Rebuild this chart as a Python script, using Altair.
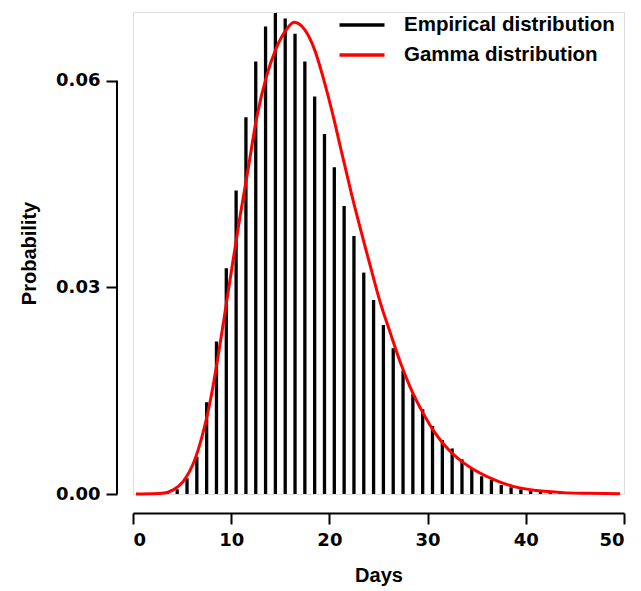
import altair as alt
import pandas as pd

# Empirical distribution (bin centres, probability)
bar_days = [3.5, 4.5, 5.5, 6.5, 7.5, 8.5, 9.5, 10.5, 11.5, 12.5,
            13.5, 14.5, 15.5, 16.5, 17.5, 18.5, 19.5, 20.5, 21.5, 22.5,
            23.5, 24.5, 25.5, 26.5, 27.5, 28.5, 29.5, 30.5, 31.5, 32.5,
            33.5, 34.5, 35.5, 36.5, 37.5, 38.5, 39.5, 40.5, 41.5, 42.5,
            43.5, 44.5, 45.5, 46.5]
bar_prob = [0.00015, 0.00068, 0.00228, 0.00542, 0.01332, 0.02213, 0.03279, 0.04407, 0.05473, 0.06281,
            0.06789, 0.06984, 0.06905, 0.06683, 0.06281, 0.05772, 0.05230, 0.04746, 0.04184, 0.03748,
            0.03215, 0.02819, 0.02455, 0.02117, 0.01794, 0.01453, 0.01231, 0.00988, 0.00785, 0.00661,
            0.00504, 0.00363, 0.00257, 0.00203, 0.00131, 0.00097, 0.00068, 0.00048, 0.00033, 0.00025,
            0.00015, 0.00010, 0.00007, 0.00004]

# Gamma distribution curve
curve_days = [0.3, 2.0, 3.0, 4.1, 5.1, 6.3, 7.0, 8.0, 8.8, 9.35, 9.9, 10.4, 10.9, 11.4, 11.7,
              12.6, 13.6, 14.6, 15.6, 16.4, 17.5, 18.5, 19.4, 20.4, 21.1, 22.3, 23.4, 24.5,
              25.1, 26.2, 27.2, 28.2, 29.6, 30.6, 31.6, 32.6, 33.6, 35.0, 36.4, 38.7, 41.1,
              43.8, 46.5, 49.6]
curve_prob = [0.0, 0.00003, 0.0001, 0.0006, 0.0018, 0.0050, 0.0082, 0.0145, 0.0212, 0.0262,
              0.0313, 0.0358, 0.0403, 0.0445, 0.0470, 0.0547, 0.0607, 0.0648, 0.0674, 0.0685,
              0.0674, 0.0645, 0.0603, 0.0548, 0.0505, 0.0433, 0.0372, 0.0313, 0.0282, 0.0234,
              0.0192, 0.0156, 0.0116, 0.0092, 0.0073, 0.0058, 0.0046, 0.0033, 0.0023, 0.0011,
              0.0005, 0.0002, 0.0001, 0.00003]

series_names = ["Empirical distribution", "Gamma distribution"]
series_colors = ["#000000", "#ff0000"]
x_ticks = [0, 10, 20, 30, 40, 50]
y_ticks = [0.0, 0.03, 0.06]

bars_df = pd.DataFrame({"Days": bar_days, "Probability": bar_prob, "series": series_names[0]})
curve_df = pd.DataFrame({"Days": curve_days, "Probability": curve_prob, "series": series_names[1]})

TICK_FONT = "DejaVu Sans"
TEXT_FONT = "Liberation Sans"

x_scale = alt.Scale(domain=[0, 50], nice=False, zero=False)
y_scale = alt.Scale(domain=[0, 0.07], nice=False)

color = alt.Color(
    "series:N",
    scale=alt.Scale(domain=series_names, range=series_colors),
    legend=alt.Legend(
        title=None, orient="none", legendX=217, legendY=1,
        symbolType="M-2.25,0H2.25", symbolSize=400, symbolStrokeWidth=3.5,
        labelFont=TEXT_FONT, labelFontSize=20.5, labelFontWeight="bold",
        labelColor="#000000", labelOffset=30, labelLimit=400, rowPadding=7, padding=0,
    ),
)

x_enc = alt.X(
    "Days:Q", scale=x_scale, title="Days",
    axis=alt.Axis(values=x_ticks, format="d", offset=19, tickSize=11, tickWidth=2,
                  domainWidth=2, domainColor="#000", tickColor="#000",
                  labelFont=TICK_FONT, labelFontSize=18, labelFontWeight="bold", labelColor="#000",
                  labelPadding=7, titleFont=TEXT_FONT, titleFontSize=20, titleFontWeight="bold",
                  titleColor="#000", titlePadding=16, grid=False),
)

bars = alt.Chart(bars_df).mark_rule(strokeWidth=3.3, strokeCap="butt").encode(
    x=x_enc,
    y=alt.Y("Probability:Q", scale=y_scale, title="Probability",
            axis=alt.Axis(values=y_ticks, format=".2f", offset=16, domain=False,
                          tickSize=11, tickWidth=2, tickColor="#000",
                          labelFont=TICK_FONT, labelFontSize=18, labelFontWeight="bold",
                          labelColor="#000", labelPadding=6,
                          titleFont=TEXT_FONT, titleFontSize=20, titleFontWeight="bold",
                          titleColor="#000", titlePadding=16, grid=False)),
    y2=alt.Y2(datum=0),
    color=color,
)

curve = alt.Chart(curve_df).mark_line(strokeWidth=3, interpolate="monotone").encode(
    x=alt.X("Days:Q", scale=x_scale),
    y=alt.Y("Probability:Q", scale=y_scale),
    color=color,
)

# Y axis line that stops at the last tick (0.06)
y_axis_line = alt.Chart(pd.DataFrame({"a": [0]})).mark_rule(color="#000", strokeWidth=2).encode(
    x=alt.value(-16),
    y=alt.Y(datum=y_ticks[0], scale=y_scale),
    y2=alt.Y2(datum=y_ticks[-1]),
)

chart = alt.layer(bars, curve, y_axis_line).properties(
    width=491, height=482,
    autosize=alt.AutoSizeParams(type="none"),
    padding={"left": 125, "top": 4, "right": 9, "bottom": 97},
).configure_view(stroke=None).configure(background="white")

chart.save("out.html", embed_options={"renderer": "svg", "actions": False})
